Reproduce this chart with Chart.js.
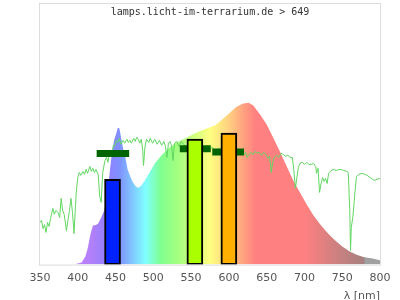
<!DOCTYPE html>
<html>
<head>
<meta charset="utf-8">
<script src="https://cdn.jsdelivr.net/npm/chart.js@4/dist/chart.umd.min.js"></script>
<style>
  html, body { margin: 0; padding: 0; background: #fff; }
</style>
</head>
<body>
<canvas id="myChart" width="400" height="300"></canvas>
<script>
// lamp spectrum (relative, 0..100)
const specNm = [350, 395, 400, 405, 410, 413, 417, 420, 424, 427, 431, 435, 440, 444, 448, 451, 453, 455, 458, 460, 463, 466, 470, 473, 477, 480, 484, 489, 495, 502, 511, 520, 529, 537, 545, 555, 568, 582, 590, 596, 602, 610, 619, 626, 632, 641, 650, 659, 668, 676, 685, 694, 703, 712, 721, 730, 740, 750, 760, 769, 778, 790, 800];
const specVal = [0, 0, 0.4, 0.8, 3.1, 6.1, 11.9, 14.9, 15.1, 15.7, 18.0, 20.7, 29.1, 39.8, 47.5, 50.2, 52.3, 52.1, 47.5, 44.4, 41.0, 36.4, 33.3, 31.4, 29.9, 29.4, 30.1, 32.2, 35.2, 38.7, 41.8, 44.4, 46.4, 47.5, 48.7, 50.2, 51.7, 53.3, 55.2, 56.7, 58.2, 60.3, 61.6, 61.9, 60.9, 57.5, 53.6, 48.3, 42.9, 37.9, 32.2, 27.6, 23.0, 18.8, 15.3, 12.3, 9.4, 6.9, 5.0, 3.8, 2.9, 2.3, 1.7];

// sunlight reference curve
const sunNm = [350, 352, 354, 356, 358, 360, 362, 364, 367, 369, 371, 374, 376, 378, 380, 382, 385, 387, 389, 391, 393, 395, 397, 398, 400, 402, 404, 407, 409, 411, 413, 416, 418, 420, 422, 424, 427, 429, 431, 433, 436, 438, 440, 442, 445, 447, 449, 451, 453, 455, 457, 460, 462, 465, 467, 469, 471, 474, 476, 478, 480, 482, 484, 486, 487, 489, 491, 494, 496, 499, 502, 505, 508, 511, 514, 516, 518, 520, 522, 524, 526, 528, 531, 534, 537, 540, 543, 550, 560, 566, 569, 572, 575, 578, 582, 586, 590, 600, 610, 617, 620, 622, 624, 626, 629, 632, 635, 637, 640, 643, 646, 649, 652, 654, 656, 658, 660, 663, 666, 669, 672, 675, 678, 681, 684, 686, 688, 690, 692, 694, 697, 700, 703, 706, 709, 712, 715, 716, 718, 720, 722, 724, 726, 728, 730, 732, 734, 738, 742, 747, 752, 756, 758, 760, 761, 762, 764, 766, 767, 769, 772, 776, 780, 783, 787, 790, 793, 796, 800];
const sunVal = [16.1, 16.9, 13.8, 15.3, 12.3, 16.1, 14.6, 17.6, 21.5, 19.2, 20.7, 19.9, 18.0, 25.3, 20.7, 19.2, 13.0, 16.9, 20.7, 25.3, 19.9, 11.9, 22.6, 27.6, 33.3, 35.2, 34.1, 35.6, 34.5, 36.4, 34.9, 37.5, 35.6, 36.8, 35.2, 36.4, 34.5, 26.1, 23.8, 35.2, 39.8, 41.0, 39.1, 43.3, 41.4, 45.6, 45.2, 47.5, 46.7, 48.3, 46.0, 47.5, 46.4, 47.9, 46.7, 47.5, 46.4, 48.3, 47.1, 48.7, 47.9, 46.4, 47.9, 43.7, 37.9, 45.2, 47.9, 46.7, 48.3, 46.4, 47.9, 46.0, 47.5, 45.6, 47.1, 45.2, 41.0, 46.4, 47.1, 45.6, 39.8, 46.4, 47.1, 45.2, 47.1, 46.0, 45.2, 44.8, 44.4, 45.2, 43.7, 45.6, 44.1, 44.8, 43.3, 44.4, 43.7, 43.7, 43.3, 44.1, 42.1, 42.9, 41.0, 41.8, 42.9, 42.1, 43.3, 42.5, 42.9, 41.8, 42.9, 42.1, 40.6, 41.4, 35.2, 39.1, 41.0, 41.8, 41.0, 42.5, 42.1, 41.4, 41.8, 41.0, 41.0, 36.0, 29.1, 33.3, 37.2, 38.7, 39.1, 38.3, 39.1, 38.3, 38.3, 38.7, 37.5, 34.9, 36.8, 27.6, 31.0, 33.3, 31.8, 33.0, 31.0, 34.9, 35.6, 36.4, 36.0, 36.4, 36.0, 35.6, 35.2, 20.7, 5.4, 14.2, 18.0, 24.5, 28.4, 33.7, 34.5, 34.9, 34.5, 34.1, 33.3, 32.6, 32.2, 32.6, 32.9];

// LED bands: centre wavelength, height, colour
const bandNm = [446, 555, 600];
const bandVal = [32.6, 48.0, 50.3];
const bandColors = ["#0022ff", "#aaff00", "#ffb000"];

// sunlight-equivalent levels per band: from / to wavelength, level
const levelFrom = [425, 535, 578];
const levelTo = [468, 576, 620];
const levelVal = [42.5, 44.3, 43.0];

const xTicks = [350, 400, 450, 500, 550, 600, 650, 700, 750, 800];

// wavelength colour stops for the spectrum fill
const stopNm = [350, 400, 420, 440, 455, 465, 475, 490, 510, 530, 550, 575, 600, 620, 635, 700, 740, 770, 779, 780, 800];
const stopColors = ["#c080ff", "#c080ff", "#b080f8", "#9080ff", "#8090ff", "#80b0ff", "#80d0ff", "#80ffff", "#80ff90", "#a0ff80", "#c8ff80", "#ffff80", "#ffd080", "#ffa080", "#ff8080", "#ff8080", "#d08080", "#b08080", "#a88080", "#a0a0a0", "#a0a0a0"];

const title = "lamps.licht-im-terrarium.de > 649";

const specData = specNm.map((x, i) => ({ x: x, y: specVal[i] }));
const sunData = sunNm.map((x, i) => ({ x: x, y: sunVal[i] }));
const bandData = bandNm.map((x, i) => ({ x: x, y: bandVal[i] }));
const levelData = [];
levelFrom.forEach((f, i) => {
    levelData.push({ x: f, y: levelVal[i] });
    levelData.push({ x: levelTo[i], y: levelVal[i] });
    levelData.push({ x: levelTo[i] + 0.5, y: null });
});

function spectrumFill(context) {
    const chart = context.chart;
    const area = chart.chartArea;
    if (!area) return "#ff8080";
    const xs = chart.scales.x;
    const x0 = xs.getPixelForValue(350);
    const x1 = xs.getPixelForValue(800);
    const g = chart.ctx.createLinearGradient(x0, 0, x1, 0);
    stopNm.forEach((nm, i) => {
        const off = (xs.getPixelForValue(nm) - x0) / (x1 - x0);
        g.addColorStop(Math.min(1, Math.max(0, off)), stopColors[i]);
    });
    return g;
}

const framePlugin = {
    id: "frame",
    afterDatasetsDraw(chart) {
        const { ctx, chartArea } = chart;
        ctx.save();
        ctx.strokeStyle = "#dddddd";
        ctx.lineWidth = 1;
        ctx.strokeRect(chartArea.left - 0.5, chartArea.top + 0.5, chartArea.right - chartArea.left + 1, chartArea.bottom - chartArea.top);
        ctx.fillStyle = "#333333";
        ctx.font = "10px 'DejaVu Sans Mono'";
        ctx.textAlign = "center";
        ctx.textBaseline = "middle";
        ctx.fillText(title, (chartArea.left + chartArea.right) / 2, chartArea.top + 9);
        ctx.restore();
    }
};

new Chart(document.getElementById("myChart"), {
    type: "line",
    data: {
        datasets: [
            {
                type: "bar",
                data: bandData,
                backgroundColor: bandColors,
                borderColor: "#000000",
                borderWidth: 2,
                borderSkipped: false,
                barThickness: 16,
                order: 0
            },
            {
                data: levelData,
                borderColor: "#006400",
                borderWidth: 7,
                borderCapStyle: "butt",
                pointRadius: 0,
                spanGaps: false,
                order: 1
            },
            {
                data: sunData,
                borderColor: "#62d662",
                borderWidth: 1,
                pointRadius: 0,
                tension: 0,
                order: 2
            },
            {
                data: specData,
                borderWidth: 0,
                borderColor: "rgba(0,0,0,0)",
                backgroundColor: spectrumFill,
                fill: "origin",
                pointRadius: 0,
                tension: 0,
                order: 3
            }
        ]
    },
    options: {
        responsive: false,
        animation: false,
        layout: { padding: { left: 40, right: 20, top: 3, bottom: -3 } },
        plugins: {
            legend: { display: false },
            tooltip: { enabled: false }
        },
        scales: {
            x: {
                type: "linear",
                min: 350,
                max: 800,
                offset: false,
                afterBuildTicks: (scale) => { scale.ticks = xTicks.map(v => ({ value: v })); },
                grid: { display: false, drawTicks: false },
                border: { display: false },
                ticks: {
                    color: "#555555",
                    font: { family: "'DejaVu Sans'", size: 11 },
                    padding: 7,
                    maxRotation: 0,
                    autoSkip: false
                },
                title: {
                    display: true,
                    text: "λ [nm]",
                    align: "end",
                    color: "#555555",
                    font: { family: "'DejaVu Sans'", size: 11 },
                    padding: { top: -2, bottom: 0 }
                }
            },
            y: {
                display: false,
                min: 0,
                max: 100
            }
        }
    },
    plugins: [framePlugin]
});
</script>
</body>
</html>
